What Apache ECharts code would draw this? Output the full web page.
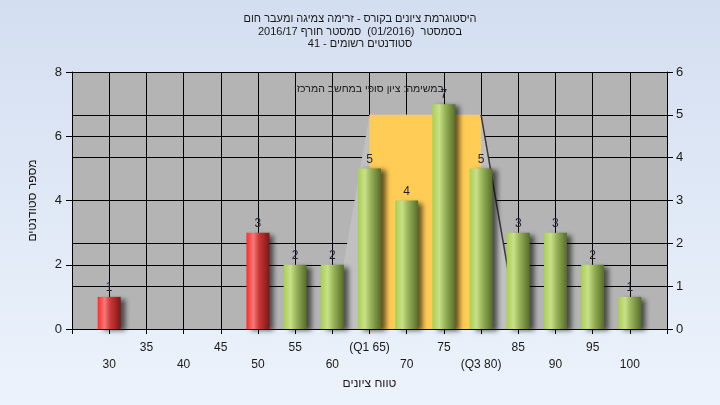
<!DOCTYPE html>
<html>
<head>
<meta charset="utf-8">
<script src="https://cdn.jsdelivr.net/npm/echarts@6/dist/echarts.min.js"></script>
<style>
html,body{margin:0;padding:0;}
#c{width:720px;height:405px;}
</style>
</head>
<body>
<div id="c" dir="rtl"></div>
<script>
// ---- data ----
const titleLines = [
  'היסטוגרמת ציונים בקורס - זרימה צמיגה ומעבר חום',
  'בסמסטר  (01/2016)  סמסטר חורף 2016/17',
  'סטודנטים רשומים - 41'
];
const seriesName = 'במשימה: ציון סופי במחשב המרכזי';
const categories = [30, 35, 40, 45, 50, 55, 60, 65, 70, 75, 80, 85, 90, 95, 100];
const counts     = [1, 0, 0, 0, 3, 2, 2, 5, 4, 7, 5, 3, 3, 2, 1];
const tickLabels = ['30','35','40','45','50','55','60','(Q1 65)','70','75','(Q3 80)','85','90','95','100'];
const passMark = 55;
const spread = [60, 65, 80, 85];   // low end, Q1, Q3, high end
const spreadLevel = [5];           // on right axis
const xAxisName = 'טווח ציונים';
const yAxisName = 'מספר סטודנטים';

const FONT = 'Liberation Sans, Arial, sans-serif';
const TXT = '#1a1a1a';

const redGrad = new echarts.graphic.LinearGradient(0,0,1,0,[
  {offset:0, color:'#ff2a2a'},{offset:0.3, color:'#f27a7a'},
  {offset:0.55, color:'#cc3636'},{offset:1, color:'#7a1818'}]);
const greenGrad = new echarts.graphic.LinearGradient(0,0,1,0,[
  {offset:0, color:'#a8d050'},{offset:0.3, color:'#c8e08a'},
  {offset:0.55, color:'#98b458'},{offset:1, color:'#566c2a'}]);

const barData = categories.map((c,i)=>({
  value:[c, counts[i]],
  itemStyle:{color: c < passMark ? redGrad : greenGrad}
}));

const chart = echarts.init(document.getElementById('c'), null, {renderer:'canvas'});
chart.setOption({
  animation:false,
  backgroundColor: new echarts.graphic.LinearGradient(0,0,0,1,[
    {offset:0,color:'#d3def0'},{offset:1,color:'#ecf3fc'}]),
  title:{
    text: titleLines.join('\n'),
    left:'center', top:8,
    textStyle:{fontFamily:FONT, fontSize:11, fontWeight:'normal', color:TXT, lineHeight:12.5}
  },
  legend:{
    data:[{name:seriesName}],
    left:284, top:79, itemWidth:0, itemHeight:0, itemGap:0,
    textStyle:{fontFamily:FONT, fontSize:10.5, color:TXT}
  },
  grid:{left:72, right:53, top:72, bottom:76, show:true, backgroundColor:'#b4b4b4', borderWidth:0},
  xAxis:{
    type:'value', min:25, max:105, interval:5,
    name:xAxisName, nameLocation:'middle', nameGap:47,
    nameTextStyle:{fontFamily:FONT, fontSize:12, color:TXT},
    axisLine:{show:true, lineStyle:{color:'#000'}},
    axisTick:{show:true, length:5, lineStyle:{color:'#000'}},
    splitLine:{show:true, lineStyle:{color:'#000', width:1}},
    axisLabel:{
      fontFamily:FONT, fontSize:12, color:TXT, margin:10, lineHeight:17,
      showMinLabel:true, showMaxLabel:true,
      formatter:(v)=>{
        const i = categories.indexOf(v);
        if(i<0) return '';
        return i%2===1 ? tickLabels[i] : '\n'+tickLabels[i];
      }
    }
  },
  yAxis:[{
    type:'value', min:0, max:8, interval:2, position:'left',
    name:yAxisName, nameLocation:'middle', nameGap:33, nameRotate:90,
    nameTextStyle:{fontFamily:FONT, fontSize:12, color:TXT},
    axisLine:{show:true, lineStyle:{color:'#000'}},
    axisTick:{show:true, length:6, lineStyle:{color:'#000'}},
    splitLine:{show:true, lineStyle:{color:'#000', width:1}},
    axisLabel:{fontFamily:FONT, fontSize:13, color:TXT, margin:10}
  },{
    type:'value', min:0, max:6, interval:1, position:'right',
    axisLine:{show:true, lineStyle:{color:'#000'}},
    axisTick:{show:true, length:6, lineStyle:{color:'#000'}},
    splitLine:{show:true, lineStyle:{color:'#000', width:1}},
    axisLabel:{fontFamily:FONT, fontSize:13, color:TXT, margin:9}
  }],
  series:[{
    type:'custom', yAxisIndex:1, z:1, silent:true,
    data:[[spread[0], spread[1], spread[2], spread[3], spreadLevel[0]]],
    renderItem:(params, api)=>{
      const p0 = api.coord([api.value(0), 0]);
      const p1 = api.coord([api.value(1), api.value(4)]);
      const p2 = api.coord([api.value(2), api.value(4)]);
      const p3 = api.coord([api.value(3), 0]);
      const b1 = api.coord([api.value(1), 0]);
      return {type:'group', children:[
        {type:'polygon', shape:{points:[p0,p1,p2,p3]}, style:{fill:'#c0c0c0'}},
        {type:'rect', shape:{x:p1[0], y:p1[1], width:p2[0]-p1[0], height:b1[1]-p1[1]}, style:{fill:'#ffcc55'}},
        {type:'line', shape:{x1:p2[0], y1:p2[1], x2:p3[0], y2:p3[1]}, style:{stroke:'#3a3a3a', lineWidth:1.5}}
      ]};
    }
  },{
    name:seriesName, type:'bar', yAxisIndex:0, z:3, barWidth:23,
    data:barData,
    itemStyle:{shadowColor:'rgba(0,0,0,0.6)', shadowBlur:5, shadowOffsetX:5, shadowOffsetY:2},
    label:{show:true, position:'top', distance:3, fontFamily:FONT, fontSize:12, color:'#1c2230',
      formatter:(p)=> p.value[1] > 0 ? String(p.value[1]) : ''}
  }]
});
</script>
</body>
</html>
